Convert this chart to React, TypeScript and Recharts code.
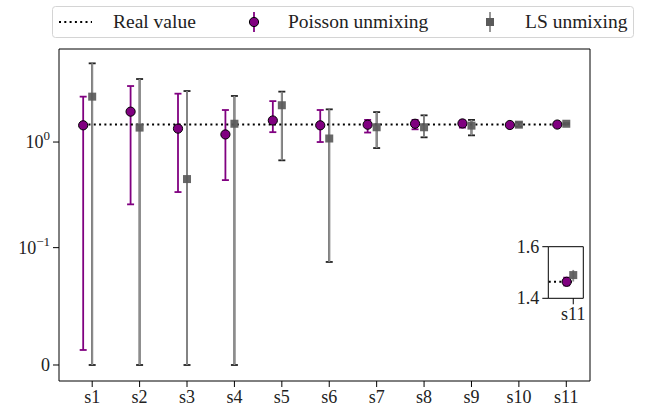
import { ComposedChart, Scatter, XAxis, YAxis, ErrorBar, ReferenceArea } from "recharts";

const samples = ["s1", "s2", "s3", "s4", "s5", "s6", "s7", "s8", "s9", "s10", "s11"];
const realValue = 1.464;

const poissonValues = [1.44, 1.94, 1.34, 1.18, 1.6, 1.44, 1.46, 1.49, 1.5, 1.45, 1.464];
const poissonLow = [0.0128, 0.257, 0.336, 0.436, 1.24, 1.0, 1.23, 1.32, 1.37, 1.42, 1.45];
const poissonHigh = [2.69, 3.39, 2.87, 2.01, 2.44, 2.01, 1.62, 1.62, 1.6, 1.49, 1.48];

const lsValues = [2.69, 1.37, 0.446, 1.49, 2.23, 1.08, 1.38, 1.38, 1.43, 1.46, 1.49];
const lsLow = [0, 0, 0, 0, 0.671, 0.0878, 0.877, 1.108, 1.157, 1.4, 1.465];
const lsHigh = [5.56, 3.95, 3.04, 2.73, 3.0, 2.04, 1.92, 1.79, 1.62, 1.53, 1.51];

const yTickValues = [0, 0.1, 1];
const insetTicks = [1.4, 1.6];

const PURPLE = "#800080";
const GRAY = "#8c8c8c";
const SQUARE = "#5a5a5a";
const FONT = "'Liberation Serif', 'DejaVu Serif', serif";
const txt = { fontFamily: FONT };

// matplotlib-like symlog, linthresh 0.1, linscale 1
const LIN_THRESH = 0.1;
const LIN_SCALE = 1 / (1 - 1 / 10);
const symlog = (v: number) =>
  v <= LIN_THRESH ? (v / LIN_THRESH) * LIN_SCALE : LIN_SCALE + Math.log10(v / LIN_THRESH);

const SHIFT = 0.19;

const poissonData = samples.map((_, i) => ({
  x: i + 1 - SHIFT,
  y: symlog(poissonValues[i]),
  err: [
    symlog(poissonValues[i]) - symlog(poissonLow[i]),
    symlog(poissonHigh[i]) - symlog(poissonValues[i]),
  ],
}));

const lsData = samples.map((_, i) => ({
  x: i + 1,
  y: symlog(lsValues[i]),
  err: [symlog(lsValues[i]) - symlog(lsLow[i]), symlog(lsHigh[i]) - symlog(lsValues[i])],
}));

const realLine = [
  { x: 1 - SHIFT, y: symlog(realValue) },
  { x: samples.length, y: symlog(realValue) },
];

// inset: last sample only, linear scale
const last = samples.length - 1;
const insetPoisson = [
  { x: samples.length - SHIFT, y: poissonValues[last], err: [poissonValues[last] - poissonLow[last], poissonHigh[last] - poissonValues[last]] },
];
const insetLs = [
  { x: samples.length, y: lsValues[last], err: [lsValues[last] - lsLow[last], lsHigh[last] - lsValues[last]] },
];
const insetLine = [
  { x: 1 - SHIFT, y: realValue },
  { x: samples.length, y: realValue },
];

const Dot = (p: any) => <circle cx={p.cx} cy={p.cy} r={4.6} fill={PURPLE} stroke="#000" strokeWidth={1} />;
const Square = (p: any) => (
  <rect x={p.cx - 4} y={p.cy - 4} width={8} height={8} fill={SQUARE} fillOpacity={0.92} />
);
const Nothing = () => <g />;

const XTick = ({ x, y, payload }: any) => (
  <text x={x} y={y} dy={13.5} textAnchor="middle" style={txt} fontSize={18} fill="#222">
    {samples[payload.value - 1]}
  </text>
);

const YTick = ({ x, y, payload }: any) => {
  const v = payload.value;
  if (v === 0) {
    return (
      <text x={x} y={y} dy={6} textAnchor="end" style={txt} fontSize={18} fill="#222">
        0
      </text>
    );
  }
  const exp = Math.round(v - LIN_SCALE + Math.log10(LIN_THRESH));
  return (
    <text x={x} y={y} dy={6} textAnchor="end" style={txt} fontSize={18} fill="#222">
      10
      <tspan dy={-8} fontSize={13}>
        {exp < 0 ? "\u2212" + Math.abs(exp) : exp}
      </tspan>
    </text>
  );
};

const InsetYTick = ({ x, y, payload }: any) => (
  <text x={x} y={y} dy={6} textAnchor="end" style={txt} fontSize={18} fill="#222">
    {payload.value.toFixed(1)}
  </text>
);

const LegendBox = () => (
  <svg width={652} height={45} style={{ position: "absolute", left: 0, top: 0 }}>
    <rect x={52.5} y={6.5} width={581} height={31} rx={3} fill="#fff" stroke="#d4d4d4" />
    <line x1={59} x2={92} y1={22} y2={22} stroke="#000" strokeWidth={2} strokeDasharray="2 3.3" />
    <text x={113} y={28} style={txt} fontSize={19.5} fill="#222">Real value</text>
    <line x1={254} x2={254} y1={12} y2={32} stroke={PURPLE} strokeWidth={1.8} />
    <circle cx={254} cy={22} r={4.6} fill={PURPLE} stroke="#000" />
    <text x={288} y={28} style={txt} fontSize={19.5} fill="#222">Poisson unmixing</text>
    <line x1={490} x2={490} y1={12} y2={32} stroke={GRAY} strokeWidth={1.8} />
    <rect x={486} y={18} width={8} height={8} fill={SQUARE} />
    <text x={525} y={28} style={txt} fontSize={19.5} fill="#222">LS unmixing</text>
  </svg>
);

const yMin = -0.1515;
const yMax = 2.992;

export default function App() {
  return (
    <div style={{ position: "fixed", left: 0, top: 0, width: 652, height: 406, background: "#fff" }}>
      <ComposedChart width={652} height={406} margin={{ top: 49, right: 62, bottom: 0, left: 0 }}>
        <XAxis
          type="number"
          dataKey="x"
          domain={[0.3, 11.5]}
          ticks={samples.map((_, i) => i + 1)}
          allowDataOverflow
          height={25}
          axisLine={false}
          tickSize={6}
          tickMargin={2}
          tickLine={{ stroke: "#000" }}
          tick={<XTick />}
        />
        <YAxis
          type="number"
          dataKey="y"
          domain={[yMin, yMax]}
          ticks={yTickValues.map(symlog)}
          allowDataOverflow
          width={59}
          axisLine={false}
          tickSize={6}
          tickMargin={3}
          tickLine={{ stroke: "#000" }}
          tick={<YTick />}
        />
        <Scatter
          data={realLine}
          line={{ stroke: "#000", strokeWidth: 2, strokeDasharray: "2 3.3" }}
          shape={<Nothing />}
          isAnimationActive={false}
        />
        <Scatter data={poissonData} shape={<Dot />} isAnimationActive={false}>
          <ErrorBar dataKey="err" direction="y" width={3.5} stroke={PURPLE} strokeWidth={1.8} />
        </Scatter>
        <Scatter data={lsData} shape={<Square />} isAnimationActive={false}>
          <ErrorBar dataKey="err" direction="y" width={3.5} stroke="#222" strokeWidth={1.8} />
          <ErrorBar dataKey="err" direction="y" width={0} stroke={GRAY} strokeWidth={1.8} />
        </Scatter>
        <ReferenceArea x1={0.3} x2={11.5} y1={yMin} y2={yMax} fill="none" stroke="#000" strokeWidth={1} />
      </ComposedChart>

      <div style={{ position: "absolute", left: 500, top: 236 }}>
        <ComposedChart width={100} height={95} margin={{ top: 10.7, right: 16.7, bottom: 0, left: 0 }}>
          <XAxis
            type="number"
            dataKey="x"
            domain={[10.28, 11.29]}
            ticks={[samples.length]}
            allowDataOverflow
            height={32.7}
            axisLine={false}
            tickSize={6}
            tickMargin={2}
            tickLine={{ stroke: "#000" }}
            tick={<XTick />}
          />
          <YAxis
            type="number"
            dataKey="y"
            domain={[1.4, 1.6]}
            ticks={insetTicks}
            allowDataOverflow
            width={48.3}
            axisLine={false}
            tickSize={6}
            tickMargin={3}
            tickLine={{ stroke: "#000" }}
            tick={<InsetYTick />}
          />
          <Scatter
            data={insetLine}
            line={{ stroke: "#000", strokeWidth: 2, strokeDasharray: "2 3.3" }}
            shape={<Nothing />}
            isAnimationActive={false}
          />
          <Scatter data={insetPoisson} shape={<Dot />} isAnimationActive={false}>
            <ErrorBar dataKey="err" direction="y" width={3.5} stroke={PURPLE} strokeWidth={1.8} />
          </Scatter>
          <Scatter data={insetLs} shape={<Square />} isAnimationActive={false}>
            <ErrorBar dataKey="err" direction="y" width={0} stroke={GRAY} strokeWidth={1.8} />
          </Scatter>
          <ReferenceArea x1={10.28} x2={11.29} y1={1.4} y2={1.6} fill="none" stroke="#000" strokeWidth={1} />
        </ComposedChart>
      </div>

      <LegendBox />
    </div>
  );
}
